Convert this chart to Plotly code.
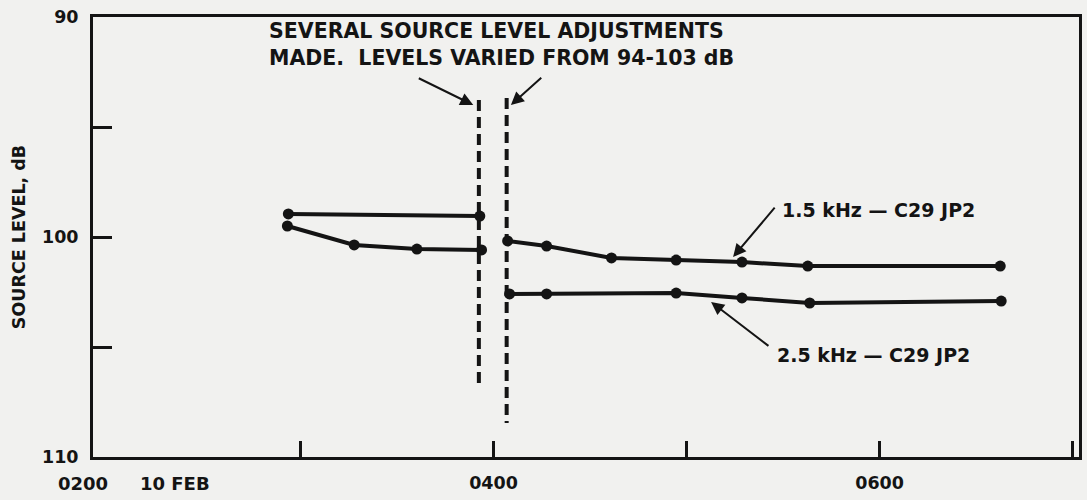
import plotly.graph_objects as go

# Time in decimal hours (10 FEB), source level in dB
hz15_time = [2.937, 3.929, None, 4.073, 4.275, 4.611, 4.946, 5.287, 5.628, 6.625]
hz15_level = [98.95, 99.05, None, 100.18, 100.41, 100.95, 101.05, 101.14, 101.32, 101.32]

hz25_time = [2.932, 3.278, 3.603, 3.938, None, 4.083, 4.275, 4.946, 5.287, 5.638, 6.630]
hz25_level = [99.5, 100.36, 100.55, 100.59, None, 102.59, 102.59, 102.55, 102.77, 103.0, 102.91]

# Adjustment markers (vertical dashed lines)
adj_time = [3.924, 4.068]
adj_top = [93.77, 93.68]
adj_bottom = [106.73, 108.45]

x_tickvals = [3, 4, 5, 6, 7]
x_ticktext = ["", "0400", "", "0600", ""]
y_tickvals = [90, 95, 100, 105, 110]
y_ticktext = ["90", "", "100", "", "110"]

INK = "#141414"
BG = "#f1f1ef"
FONT = "DejaVu Sans"

fig = go.Figure()

for t, top, bot in zip(adj_time, adj_top, adj_bottom):
    fig.add_trace(go.Scatter(x=[t, t], y=[top, bot], mode="lines",
                             line=dict(color=INK, width=4, dash="11px,6px"),
                             hoverinfo="skip", showlegend=False))

for xs, ys in [(hz15_time, hz15_level), (hz25_time, hz25_level)]:
    fig.add_trace(go.Scatter(x=xs, y=ys, mode="lines+markers",
                             line=dict(color=INK, width=4),
                             marker=dict(color=INK, size=11),
                             connectgaps=False, showlegend=False))

note_font = dict(family=FONT, size=20.5, color=INK, weight="bold")
label_font = dict(family=FONT, size=19, color=INK, weight="bold")
arrow = dict(xref="x", yref="y", axref="x", ayref="y", text="", showarrow=True,
             arrowhead=2, arrowsize=1.3, arrowwidth=2, arrowcolor=INK)

annots = []
annots.append(dict(xref="x", yref="y", x=2.828, y=91.25, xanchor="left", yanchor="middle",
                   align="left", showarrow=False,
                   text="SEVERAL SOURCE LEVEL ADJUSTMENTS<br>MADE.  LEVELS VARIED FROM 94-103 dB",
                   font=note_font))
annots.append(dict(arrow, x=3.895, y=94.0, ax=3.605, ay=92.75))
annots.append(dict(arrow, x=4.09, y=94.0, ax=4.255, ay=92.7))
annots.append(dict(xref="x", yref="y", x=5.483, y=98.77, xanchor="left", yanchor="middle",
                   showarrow=False, text="1.5 kHz \u2014 C29 JP2", font=label_font))
annots.append(dict(arrow, x=5.241, y=100.91, ax=5.463, ay=98.6))
annots.append(dict(xref="x", yref="y", x=5.458, y=105.36, xanchor="left", yanchor="middle",
                   showarrow=False, text="2.5 kHz \u2014 C29 JP2", font=label_font))
annots.append(dict(arrow, x=5.127, y=102.95, ax=5.432, ay=105.0))
annots.append(dict(xref="x", yref="paper", x=2.0, y=0, xshift=-24, yshift=-26,
                   xanchor="center", yanchor="middle", showarrow=False,
                   text="0200", font=dict(family=FONT, size=18, color=INK, weight="bold")))
annots.append(dict(xref="x", yref="paper", x=2.0, y=0, xshift=68, yshift=-26,
                   xanchor="center", yanchor="middle", showarrow=False,
                   text="10 FEB", font=dict(family=FONT, size=18, color=INK, weight="bold")))

tick_font = dict(family=FONT, size=17.5, color=INK, weight="bold")

fig.update_layout(
    width=1087, height=500,
    margin=dict(l=93, r=5, t=17, b=43),
    paper_bgcolor=BG, plot_bgcolor=BG,
    font=dict(family=FONT, size=18, color=INK),
    annotations=annots,
    xaxis=dict(range=[1.925, 7.033], tickvals=x_tickvals, ticktext=x_ticktext,
               ticks="inside", ticklen=16, tickwidth=2.5, tickcolor=INK,
               showline=True, linewidth=3, linecolor=INK, mirror=True,
               showgrid=False, zeroline=False, ticklabelstandoff=8, tickfont=tick_font),
    yaxis=dict(range=[110, 90], tickvals=y_tickvals, ticktext=y_ticktext,
               ticks="inside", ticklen=19, tickwidth=2.5, tickcolor=INK,
               showline=True, linewidth=3, linecolor=INK, mirror=True,
               showgrid=False, zeroline=False, ticklabelstandoff=8, tickfont=tick_font,
               title=dict(text="SOURCE LEVEL, dB", standoff=12,
                          font=dict(family=FONT, size=17.5, color=INK, weight="bold"))),
)

fig.write_html("out.html", config={"displayModeBar": False},
               post_script="document.body.style.margin='0';")
